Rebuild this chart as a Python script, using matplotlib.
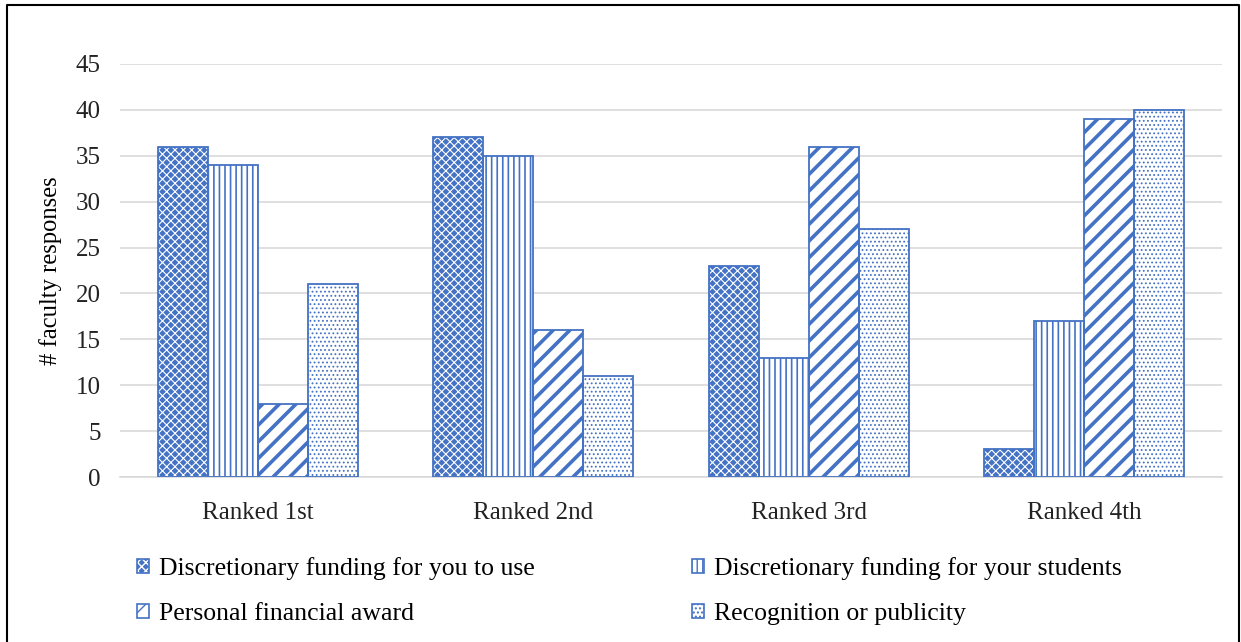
import numpy as np
import matplotlib
matplotlib.use("Agg")
from matplotlib import pyplot as plt
from matplotlib.patches import Patch
from matplotlib.lines import Line2D
from matplotlib.legend_handler import HandlerTuple

plt.rcParams['font.family'] = ['Liberation Serif', 'DejaVu Serif']

# data
categories = ['Ranked 1st', 'Ranked 2nd', 'Ranked 3rd', 'Ranked 4th']
series_names = ['Discretionary funding for you to use',
                'Discretionary funding for your students',
                'Personal financial award',
                'Recognition or publicity']
fund_you = [36, 37, 23, 3]
fund_students = [34, 35, 13, 17]
personal_award = [8, 16, 36, 39]
recognition = [21, 11, 27, 40]
y_ticks = [0, 5, 10, 15, 20, 25, 30, 35, 40, 45]

blue = '#4472C4'
series = [fund_you, fund_students, personal_award, recognition]
# (face, hatch colour, hatch, hatch linewidth)
styles = [(blue, 'white', 'xxxx', 0.8),
          ('white', blue, '|||', 1.2),
          ('white', blue, '//', 2.6),
          ('white', blue, '....', 0.8)]

fig = plt.figure(figsize=(12.41, 6.42), dpi=100)
ax = fig.add_axes([120/1241, 1-477/642, 1102/1241, 413/642])

x = np.arange(len(categories))
w = 0.1815
handles = []
for i, (vals, (fc, hc, hatch, hlw)) in enumerate(zip(series, styles)):
    pos = x + (i - 1.5) * w
    bars = ax.bar(pos, vals, w, color=fc, edgecolor=hc, hatch=hatch, linewidth=0, zorder=2)
    for b in bars:
        if hasattr(b, 'set_hatch_linewidth'):
            b.set_hatch_linewidth(hlw)
    ax.bar(pos, vals, w, fill=False, edgecolor=blue, linewidth=1.3, zorder=3)
    # legend swatch: hatched fill with a blue outline on top
    h = Patch(facecolor=fc, edgecolor=hc, hatch=hatch, linewidth=0)
    if hasattr(h, 'set_hatch_linewidth'):
        h.set_hatch_linewidth(hlw * 0.6)
    edge = Patch(fill=False, edgecolor=blue, linewidth=1.2)
    handles.append((h, edge))

ax.set_xlim(-0.5, 3.5)
ax.set_ylim(0, 45)
ax.set_yticks(y_ticks)
ax.set_xticks(x)
ax.set_xticklabels(categories)
ax.tick_params(length=0, labelsize=18, colors='#222222')
ax.tick_params(axis='y', pad=14)
ax.tick_params(axis='x', pad=18)
ax.yaxis.grid(True, color='#d9d9d9', linewidth=1.2, zorder=0)
ax.set_axisbelow(True)
for s in ['top', 'right', 'left']:
    ax.spines[s].set_visible(False)
ax.spines['bottom'].set_color('#d9d9d9')
ax.spines['bottom'].set_linewidth(1.2)
ax.set_ylabel('# faculty responses', fontsize=17.7, labelpad=10)

order = [0, 2, 1, 3]
fig.legend([handles[k] for k in order], [series_names[k] for k in order],
           handler_map={tuple: HandlerTuple(ndivide=1, pad=0)},
           loc='upper left', bbox_to_anchor=(137/1241, 1-557/642), ncol=2,
           frameon=False, fontsize=18.5, handlelength=0.47, handleheight=0.47,
           handletextpad=0.4, columnspacing=6.1, labelspacing=0.9,
           borderaxespad=0, borderpad=0)

# outer frame
fx0, fx1, fy = 7/1241, 1239/1241, 1 - 5/642
fig.add_artist(Line2D([fx0, fx0, fx1, fx1], [0, fy, fy, 0],
                      transform=fig.transFigure, color='black', linewidth=1.5))

fig.savefig('out.png', dpi=100)
